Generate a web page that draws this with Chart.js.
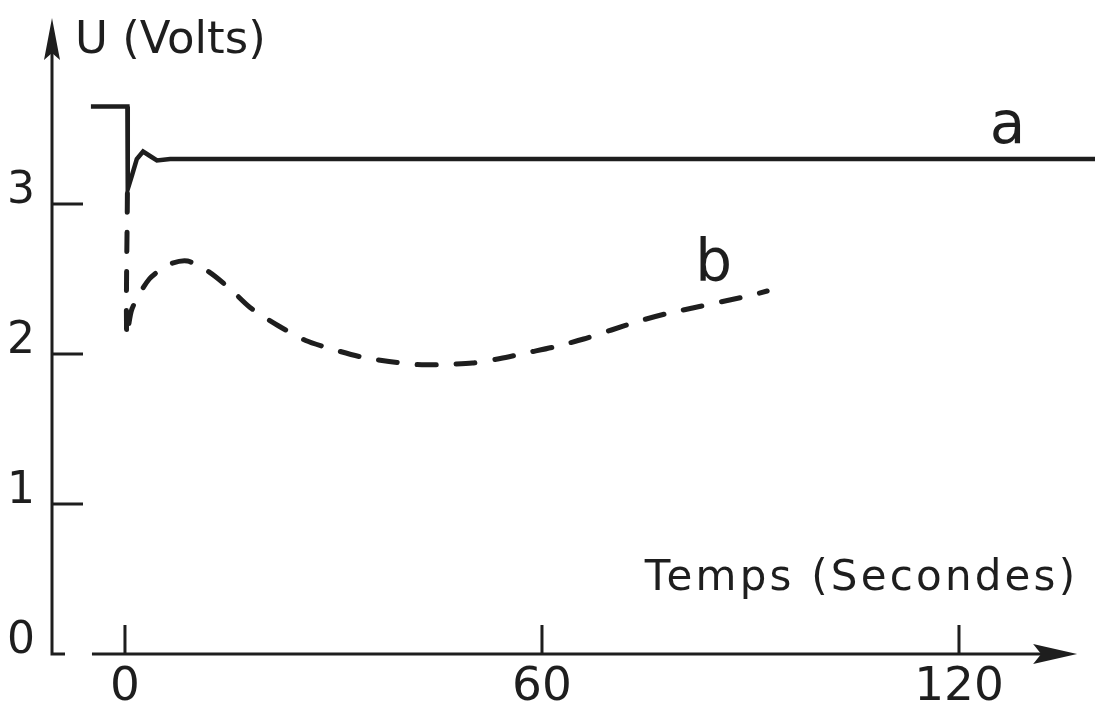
<!DOCTYPE html>
<html>
<head>
<meta charset="utf-8">
<script src="https://cdn.jsdelivr.net/npm/chart.js@4.4.1/dist/chart.umd.min.js"></script>
<style>
  html, body { margin: 0; padding: 0; background: #fff; }
</style>
</head>
<body>
<canvas id="chart" width="1095" height="708"></canvas>
<script>
// courbe a : tension (V) en fonction du temps (s)
var timeA  = [-4.9, 0.35, 0.4, 1.0, 1.7, 2.6, 3.6, 4.6, 6.5, 140];
var voltsA = [3.65, 3.65, 3.10, 3.19, 3.30, 3.35, 3.32, 3.29, 3.30, 3.30];

// courbe b (pointilles)
var timeB  = [0.35, 0.25, 1.0, 3.5, 6.5, 9, 12, 15, 18, 22, 26, 30, 34, 38, 42, 46, 50,
              54, 58, 62, 66, 70, 74, 78, 82, 86, 90, 92.4];
var voltsB = [3.07, 2.12, 2.30, 2.50, 2.60, 2.62, 2.55, 2.44, 2.31, 2.19, 2.09, 2.03, 1.98,
              1.95, 1.93, 1.93, 1.94, 1.97, 2.01, 2.05, 2.10, 2.16, 2.22, 2.27, 2.31, 2.35, 2.39, 2.42];

var curveNames = ['a', 'b'];
var xTicks = [0, 60, 120];
var yTicks = [0, 1, 2, 3];
var yTickMarks = [1, 2, 3];

var ink = '#1e1e1e';
var fontFamily = "'DejaVu Sans', 'Liberation Sans', sans-serif";

function toPoints(xs, ys) {
  return xs.map(function (x, i) { return { x: x, y: ys[i] }; });
}

// axes a fleches, graduations et textes dessines a partir des echelles
var axesPlugin = {
  id: 'axesFleches',
  afterDraw: function (chart) {
    var ctx = chart.ctx;
    var xs = chart.scales.x, ys = chart.scales.y, area = chart.chartArea;
    var x0 = area.left, y0 = ys.getPixelForValue(0);
    ctx.save();
    ctx.strokeStyle = ink;
    ctx.fillStyle = ink;
    ctx.lineWidth = 3;

    // axe vertical
    ctx.beginPath();
    ctx.moveTo(x0 + 13, y0);
    ctx.lineTo(x0, y0);
    ctx.lineTo(x0, area.top + 30);
    ctx.stroke();
    ctx.beginPath();
    ctx.moveTo(x0, area.top);
    ctx.lineTo(x0 - 8, area.top + 42);
    ctx.lineTo(x0, area.top + 35);
    ctx.lineTo(x0 + 8, area.top + 42);
    ctx.closePath();
    ctx.fill();

    // axe horizontal
    var xStart = xs.getPixelForValue(-4.75), xEnd = xs.getPixelForValue(137);
    ctx.beginPath();
    ctx.moveTo(xStart, y0);
    ctx.lineTo(xEnd - 30, y0);
    ctx.stroke();
    ctx.beginPath();
    ctx.moveTo(xEnd, y0);
    ctx.lineTo(xEnd - 44, y0 - 10);
    ctx.lineTo(xEnd - 36, y0);
    ctx.lineTo(xEnd - 44, y0 + 10);
    ctx.closePath();
    ctx.fill();

    // graduations
    ctx.beginPath();
    yTickMarks.forEach(function (v) {
      var py = ys.getPixelForValue(v);
      ctx.moveTo(x0, py);
      ctx.lineTo(x0 + 31, py);
    });
    xTicks.forEach(function (t) {
      var px = xs.getPixelForValue(t);
      ctx.moveTo(px, y0);
      ctx.lineTo(px, y0 - 29);
    });
    ctx.stroke();

    // titres des axes
    ctx.textBaseline = 'alphabetic';
    ctx.textAlign = 'left';
    ctx.font = '45px ' + fontFamily;
    ctx.fillText('U (Volts)', x0 + 23, area.top + 35);
    ctx.font = '42px ' + fontFamily;
    ctx.letterSpacing = '3.2px';
    ctx.fillText('Temps (Secondes)', xs.getPixelForValue(74.8), ys.getPixelForValue(0.43));
    ctx.letterSpacing = '0px';

    // noms des courbes
    ctx.textAlign = 'center';
    ctx.font = '58px ' + fontFamily;
    ctx.fillText(curveNames[0], xs.getPixelForValue(127), ys.getPixelForValue(3.41));
    ctx.fillText(curveNames[1], xs.getPixelForValue(84.7), ys.getPixelForValue(2.49));
    ctx.restore();
  }
};

new Chart(document.getElementById('chart'), {
  type: 'line',
  data: {
    datasets: [
      {
        label: curveNames[0],
        data: toPoints(timeA, voltsA),
        borderColor: ink,
        borderWidth: 4.5,
        pointRadius: 0,
        tension: 0,
        fill: false
      }, {
        label: curveNames[1],
        data: toPoints(timeB, voltsB),
        borderColor: ink,
        borderWidth: 5,
        borderDash: [19, 20],
        borderCapStyle: 'round',
        pointRadius: 0,
        tension: 0.25,
        fill: false
      }
    ]
  },
  options: {
    responsive: false,
    devicePixelRatio: 1,
    animation: false,
    layout: { padding: { top: 18, right: 0, bottom: 0, left: 0 } },
    plugins: {
      legend: { display: false },
      tooltip: { enabled: false }
    },
    scales: {
      x: {
        type: 'linear',
        min: -10.5,
        max: 139.57,
        afterFit: function (s) { s.height = 54; },
        afterBuildTicks: function (s) { s.ticks = xTicks.map(function (v) { return { value: v }; }); },
        grid: { display: false, drawTicks: false },
        border: { display: false },
        ticks: {
          color: ink,
          font: { family: fontFamily, size: 47, lineHeight: 0.02 },
          padding: 33,
          maxRotation: 0,
          autoSkip: false
        }
      },
      y: {
        type: 'linear',
        min: 0,
        max: 4.24,
        afterFit: function (s) { s.width = 52; },
        afterBuildTicks: function (s) { s.ticks = yTicks.map(function (v) { return { value: v }; }); },
        grid: { display: false, drawTicks: false },
        border: { display: false },
        ticks: {
          color: ink,
          font: { family: fontFamily, size: 44, lineHeight: 0.02 },
          padding: 17,
          labelOffset: -12,
          autoSkip: false
        }
      }
    }
  },
  plugins: [axesPlugin]
});
</script>
</body>
</html>
